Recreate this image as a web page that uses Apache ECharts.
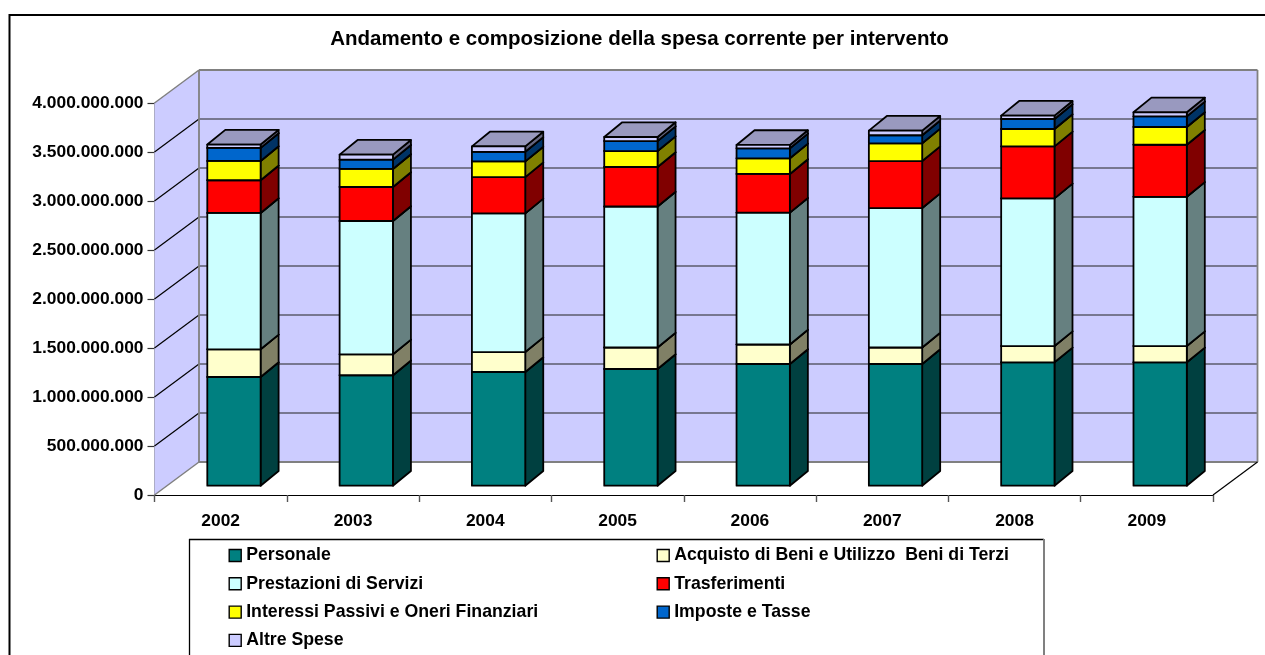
<!DOCTYPE html>
<html>
<head>
<meta charset="utf-8">
<style>html,body{margin:0;padding:0;background:#fff;overflow:hidden}#c{width:1265px;height:655px}</style>
<script src="https://cdn.jsdelivr.net/npm/echarts@6/dist/echarts.min.js"></script>
</head>
<body>
<div id="c"></div>
<script>
var years = ['2002','2003','2004','2005','2006','2007','2008','2009'];
var personale   = [1109,1127,1160,1191,1242,1242,1259,1259];
var acquisto    = [283,214,204,219,199,168,166,166];
var prestazioni = [1391,1360,1415,1439,1345,1423,1507,1523];
var trasferimenti = [334,347,370,403,395,480,531,531];
var interessi   = [197,184,160,163,160,181,177,181];
var imposte     = [133,95,98,102,102,82,102,109];
var altre       = [34,51,55,41,34,47,34,41];
var seriesNames = ['Personale','Acquisto di Beni e Utilizzo  Beni di Terzi','Prestazioni di Servizi','Trasferimenti','Interessi Passivi e Oneri Finanziari','Imposte e Tasse','Altre Spese'];
var seriesValues = [personale,acquisto,prestazioni,trasferimenti,interessi,imposte,altre];
var frontColors = ['#008080','#FFFFCC','#CCFFFF','#FF0000','#FFFF00','#0066CC','#CCCCFF'];
var sideColors  = ['#004040','#808066','#668080','#800000','#808000','#003366','#666680'];
var topColors   = ['#006666','#CCCCA3','#A3CCCC','#CC0000','#CCCC00','#0052A3','#9999BF'];

var FONT = '"Liberation Sans", Arial, sans-serif';
var WALL = {dx:44.5, dy:33};
var BAR = {ox:13.3, oy:9.3, dx:18, dy:14.7, ratio:0.403};

function renderWalls(params, api){
  var cs = params.coordSys;
  var x0 = cs.x, x1 = cs.x + cs.width;
  var y0 = api.coord([0,0])[1], y4 = api.coord([0,4000])[1];
  var d = WALL, ch = [];
  function poly(pts, fill){ ch.push({type:'polygon',shape:{points:pts},style:{fill:fill,stroke:null}}); }
  function line(a,b,c,w){ ch.push({type:'line',shape:{x1:a[0],y1:a[1],x2:b[0],y2:b[1]},style:{stroke:c,lineWidth:w}}); }
  poly([[x0,y0],[x0,y4],[x0+d.dx,y4-d.dy],[x0+d.dx,y0-d.dy]],'#CCCCFF');
  poly([[x0+d.dx,y0-d.dy],[x0+d.dx,y4-d.dy],[x1+d.dx,y4-d.dy],[x1+d.dx,y0-d.dy]],'#CCCCFF');
  for (var v=500; v<4000; v+=500){
    var y = api.coord([0,v])[1];
    line([x0,y],[x0+d.dx,y-d.dy],'#000',1.2);
    line([x0+d.dx,y-d.dy],[x1+d.dx,y-d.dy],'#222',1.2);
  }
  var G = '#808080';
  line([x0,y4],[x0+d.dx,y4-d.dy],G,1.5);
  line([x0+d.dx,y4-d.dy],[x1+d.dx,y4-d.dy],G,2);
  line([x0+d.dx,y4-d.dy],[x0+d.dx,y0-d.dy],G,1.8);
  line([x1+d.dx,y4-d.dy],[x1+d.dx,y0-d.dy],G,1.8);
  line([x0,y0],[x0+d.dx,y0-d.dy],G,1.5);
  line([x0+d.dx,y0-d.dy],[x1+d.dx,y0-d.dy],G,1.8);
  line([x1,y0],[x1+d.dx,y0-d.dy],'#000',1.2);
  return {type:'group',children:ch};
}

function makeRender(k){
  return function(params, api){
    var cat = api.value(0);
    var lo = api.coord([cat, api.value(1)]);
    var hi = api.coord([cat, api.value(2)]);
    var w = api.size([1,0])[0]*BAR.ratio;
    var l = lo[0]+BAR.ox-w/2, r = l+w;
    var b = lo[1]-BAR.oy, t = hi[1]-BAR.oy;
    var st = function(f){ return {fill:f,stroke:'#000',lineWidth:1.8,lineJoin:'round'}; };
    return {type:'group',children:[
      {type:'polygon',shape:{points:[[r,b],[r,t],[r+BAR.dx,t-BAR.dy],[r+BAR.dx,b-BAR.dy]]},style:st(sideColors[k])},
      {type:'polygon',shape:{points:[[l,t],[r,t],[r+BAR.dx,t-BAR.dy],[l+BAR.dx,t-BAR.dy]]},style:st(topColors[k])},
      {type:'polygon',shape:{points:[[l,b],[r,b],[r,t],[l,t]]},style:st(frontColors[k])}
    ]};
  };
}

var cumulative = years.map(function(){return 0;});
var barSeries = seriesNames.map(function(name,k){
  var data = years.map(function(y,i){
    var base = cumulative[i]; cumulative[i] += seriesValues[k][i];
    return [i, base, cumulative[i]];
  });
  return {type:'custom',name:name,coordinateSystem:'cartesian2d',clip:false,z:5+k,
    itemStyle:{color:frontColors[k]},encode:{x:0,y:[1,2]},renderItem:makeRender(k),data:data,silent:true,animation:false};
});
var wallSeries = {type:'custom',name:'walls',coordinateSystem:'cartesian2d',clip:false,z:1,silent:true,animation:false,
  renderItem:renderWalls,encode:{x:0,y:1},data:[[0,0]]};

function legend(names,left){
  return {show:true,orient:'vertical',left:left,top:546.5,height:150,data:names,icon:'rect',itemWidth:12,itemHeight:12,itemGap:10.3,
    padding:0,selectedMode:false,itemStyle:{borderColor:'#000',borderWidth:1.4},
    textStyle:{fontFamily:FONT,fontWeight:'bold',fontSize:17.7,color:'#000',padding:[0,0,0,0],height:12,lineHeight:12}};
}

var chart = echarts.init(document.getElementById('c'),null,{renderer:'canvas'});
chart.setOption({
  animation:false,
  backgroundColor:'#fff',
  title:{text:'Andamento e composizione della spesa corrente per intervento',left:639.5,top:29,textAlign:'center',
    textStyle:{fontFamily:FONT,fontWeight:'bold',fontSize:20.5,color:'#000'},padding:0},
  legend:[legend([seriesNames[0],seriesNames[2],seriesNames[4],seriesNames[6]],228.5),
          legend([seriesNames[1],seriesNames[3],seriesNames[5]],656.5)],
  grid:{left:154.5,top:103,width:1058.5,height:392,containLabel:false},
  xAxis:{type:'category',data:years,
    axisLine:{lineStyle:{color:'#000',width:1.2}},
    axisTick:{show:true,length:7,alignWithLabel:false,lineStyle:{color:'#555',width:1.4}},
    axisLabel:{fontFamily:FONT,fontWeight:'bold',fontSize:17.4,color:'#000',margin:17.5}},
  yAxis:{type:'value',min:0,max:4000,interval:500,
    axisLine:{show:true,lineStyle:{color:'#707070',width:1.6}},
    axisTick:{show:true,length:7,lineStyle:{color:'#333',width:1.2}},
    splitLine:{show:false},
    axisLabel:{fontFamily:FONT,fontWeight:'bold',fontSize:17.4,color:'#000',margin:11,
      formatter:function(v){ return v===0 ? '0' : (v*1000000).toString().replace(/\B(?=(\d{3})+$)/g,'.'); }}},
  graphic:[
    {type:'line',z:-1,shape:{x1:9,y1:15,x2:1265,y2:15},style:{stroke:'#000',lineWidth:2}},
    {type:'line',z:-1,shape:{x1:9.5,y1:14,x2:9.5,y2:655},style:{stroke:'#000',lineWidth:2}},
    {type:'line',z:-1,shape:{x1:189,y1:539.5,x2:1044,y2:539.5},style:{stroke:'#000',lineWidth:1.3}},
    {type:'line',z:-1,shape:{x1:189.5,y1:539,x2:189.5,y2:655},style:{stroke:'#000',lineWidth:1.3}},
    {type:'line',z:-1,shape:{x1:1044,y1:539,x2:1044,y2:655},style:{stroke:'#808080',lineWidth:2}}
  ],
  series:[wallSeries].concat(barSeries)
});
</script>
</body>
</html>
